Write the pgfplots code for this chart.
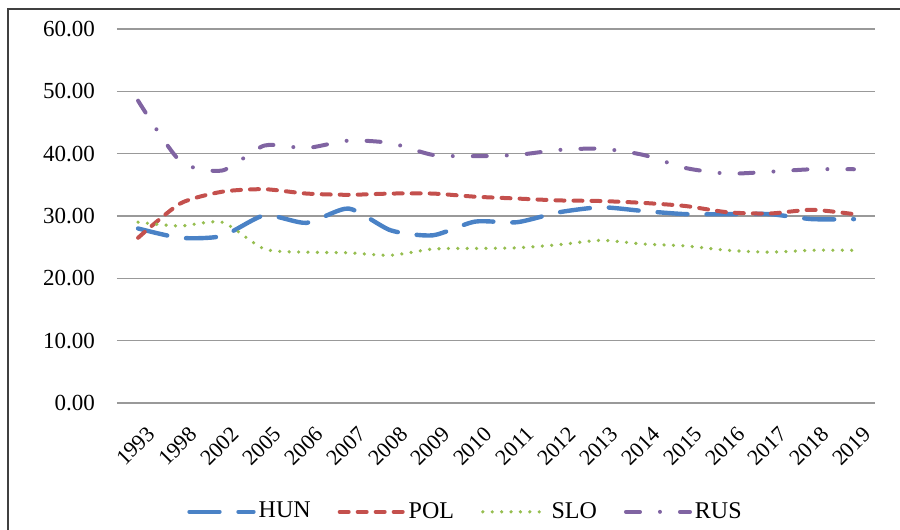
\documentclass[border=0pt]{standalone}
\usepackage{fontspec}
\setmainfont{Liberation Serif}
\usepackage{pgfplots}
\pgfplotsset{compat=1.18}
\definecolor{hun}{RGB}{74,130,198}
\definecolor{pol}{RGB}{196,80,77}
\definecolor{slo}{RGB}{150,190,80}
\definecolor{rus}{RGB}{128,100,162}
\begin{document}
\fontsize{11.5}{13}\selectfont
\begin{tikzpicture}
\useasboundingbox (-58.5pt,-63.5pt) rectangle (391.5pt,201.5pt);
\draw[line width=0.8pt,black!75] (-54.5pt,-64pt) -- (-54.5pt,197pt) -- (392pt,197pt);
\begin{axis}[
  at={(0,0)}, anchor=south west,
  scale only axis, width=379pt, height=187pt,
  xmin=-0.5, xmax=17.5, ymin=0, ymax=60,
  xtick={0,...,17},
  xticklabels={1993,1998,2002,2005,2006,2007,2008,2009,2010,2011,2012,2013,2014,2015,2016,2017,2018,2019},
  ytick={0,10,...,60},
  axis line style={draw=none},
  major tick length=0pt,
  ymajorgrids,
  grid style={line width=0.8pt, color=black!40},
  /pgf/number format/assume math mode=true,
  yticklabel={\pgfmathprintnumber[fixed,fixed zerofill,precision=2]{\tick}},
  yticklabel style={xshift=-7pt, font=\fontsize{11.5}{13}\selectfont},
  xticklabel style={rotate=45, anchor=north east, xshift=-4.4pt, yshift=-10pt, inner sep=0.5pt, font=\fontsize{11}{13}\selectfont},
  legend columns=4,
  legend style={at={(0.4604,-0.291)}, anchor=center, draw=none, fill=none,
    font=\fontsize{12}{14}\selectfont,
    nodes={inner xsep=1.5pt},
    /tikz/every odd column/.append style={column sep=0pt},
    /tikz/every even column/.append style={column sep=12pt}},
  legend image code/.code={\draw[#1] (0pt,0pt) -- (32pt,0pt);},
  every axis plot/.append style={smooth, tension=0.4, line cap=round},
]
\addplot[hun, line width=2.2pt, dash pattern=on 15pt off 9.5pt] coordinates {
(0,28.0) (1,26.5) (2,26.8) (3,30.1) (4,28.9) (5,31.2) (6,27.7) (7,26.9) (8,29.1)
(9,29.0) (10,30.6) (11,31.4) (12,30.8) (13,30.3) (14,30.3) (15,30.3) (16,29.5) (17,29.5)};
\addlegendentry{HUN}
\addplot[pol, line width=2pt, dash pattern=on 4.5pt off 4.5pt] coordinates {
(0,26.5) (1,32.0) (2,33.9) (3,34.3) (4,33.6) (5,33.4) (6,33.6) (7,33.6) (8,33.1)
(9,32.8) (10,32.5) (11,32.4) (12,32.1) (13,31.6) (14,30.6) (15,30.4) (16,31.0) (17,30.3)};
\addlegendentry{POL}
\addplot[slo, line width=1.8pt, dash pattern=on 0pt off 4.7pt] coordinates {
(0,29.0) (1,28.4) (2,29.0) (3,24.7) (4,24.2) (5,24.1) (6,23.7) (7,24.7) (8,24.8)
(9,24.9) (10,25.4) (11,26.1) (12,25.5) (13,25.2) (14,24.5) (15,24.2) (16,24.5) (17,24.5)};
\addlegendentry{SLO}
\addplot[rus, line width=2pt, dash pattern=on 7pt off 10pt on 0pt off 10pt] coordinates {
(0,48.5) (1,38.8) (2,37.3) (3,41.3) (4,40.9) (5,42.1) (6,41.7) (7,39.8) (8,39.6)
(9,39.8) (10,40.6) (11,40.8) (12,39.8) (13,37.7) (14,36.8) (15,37.1) (16,37.5) (17,37.5)};
\addlegendentry{RUS}
\end{axis}
\end{tikzpicture}
\end{document}
